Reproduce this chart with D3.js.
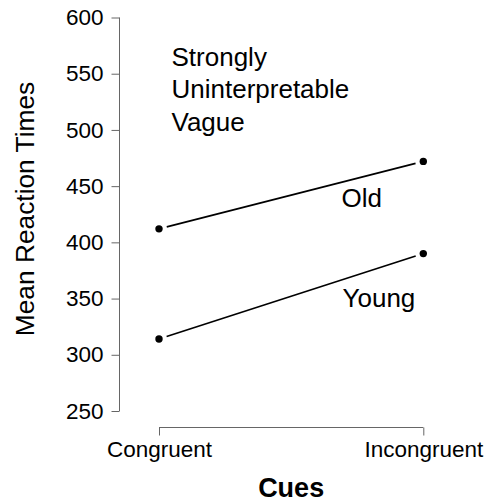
<!DOCTYPE html>
<html>
<head>
<meta charset="utf-8">
<script src="https://cdn.jsdelivr.net/npm/d3@7"></script>
<style>
  html, body { margin: 0; padding: 0; background: #fff; }
  svg { display: block; font-family: "Liberation Sans", Arial, Helvetica, sans-serif; }
</style>
</head>
<body>
<svg id="chart" width="485" height="502"></svg>
<script>
// Reaction-time interaction plot: two age groups across two cue conditions
const cues = ["Congruent", "Incongruent"];
const oldRT = [412, 472];
const youngRT = [314, 390];
const yTicks = [250, 300, 350, 400, 450, 500, 550, 600];
const noteLines = ["Strongly", "Uninterpretable", "Vague"];

const groups = [
  { name: "Old", values: oldRT },
  { name: "Young", values: youngRT }
];

const svg = d3.select("#chart");

const x = d3.scalePoint().domain(cues).range([159, 423.3]);
const y = d3.scaleLinear().domain([250, 600]).range([411, 17.5]);

// y axis
const yAxis = d3.axisLeft(y).tickValues(yTicks).tickSize(8).tickPadding(8).tickSizeOuter(0);
const gy = svg.append("g").attr("transform", "translate(119.5,0)").call(yAxis)
  .attr("font-size", null).attr("font-family", null);
gy.select(".domain").attr("stroke", "#666").attr("d", `M0,${y(250)}V${y(600)}`);
gy.selectAll(".tick line").attr("stroke", "#666");
gy.selectAll(".tick text").attr("font-size", 22.5).attr("fill", "#000");

// x axis
const xAxis = d3.axisBottom(x).tickSize(8).tickPadding(6).tickSizeOuter(0);
const gx = svg.append("g").attr("transform", "translate(0,427.5)").call(xAxis)
  .attr("font-size", null).attr("font-family", null);
gx.select(".domain").attr("stroke", "#666").attr("d", `M${x(cues[0])},0H${x(cues[1])}`);
gx.selectAll(".tick line").attr("stroke", "#666");
gx.selectAll(".tick text").attr("font-size", 22.5).attr("fill", "#000");

// axis titles
svg.append("text")
  .attr("x", (x(cues[0]) + x(cues[1])) / 2)
  .attr("y", 496.5)
  .attr("text-anchor", "middle")
  .attr("font-size", 27)
  .attr("font-weight", "bold")
  .text("Cues");

svg.append("text")
  .attr("transform", "translate(33.5,209) rotate(-90)")
  .attr("text-anchor", "middle")
  .attr("font-size", 26.3)
  .text("Mean Reaction Times");

// lines with gaps around the points, then the points
const gap = 8;
groups.forEach(g => {
  const x0 = x(cues[0]), y0 = y(g.values[0]);
  const x1 = x(cues[1]), y1 = y(g.values[1]);
  const len = Math.hypot(x1 - x0, y1 - y0);
  const ux = (x1 - x0) / len, uy = (y1 - y0) / len;
  svg.append("line")
    .attr("x1", x0 + ux * gap).attr("y1", y0 + uy * gap)
    .attr("x2", x1 - ux * gap).attr("y2", y1 - uy * gap)
    .attr("stroke", "#000").attr("stroke-width", 1.6);
  svg.selectAll(null).data(g.values).enter().append("circle")
    .attr("cx", (d, i) => x(cues[i]))
    .attr("cy", d => y(d))
    .attr("r", 3.7)
    .attr("fill", "#000");
});

// group labels
svg.append("text").attr("x", 341.5).attr("y", 206.7).attr("font-size", 26).text("Old");
svg.append("text").attr("x", 342.5).attr("y", 306.6).attr("font-size", 26).text("Young");

// annotation block
svg.append("g").selectAll("text").data(noteLines).enter().append("text")
  .attr("x", 171.5)
  .attr("y", (d, i) => 65.6 + i * 32.5)
  .attr("font-size", 26)
  .text(d => d);
</script>
</body>
</html>
